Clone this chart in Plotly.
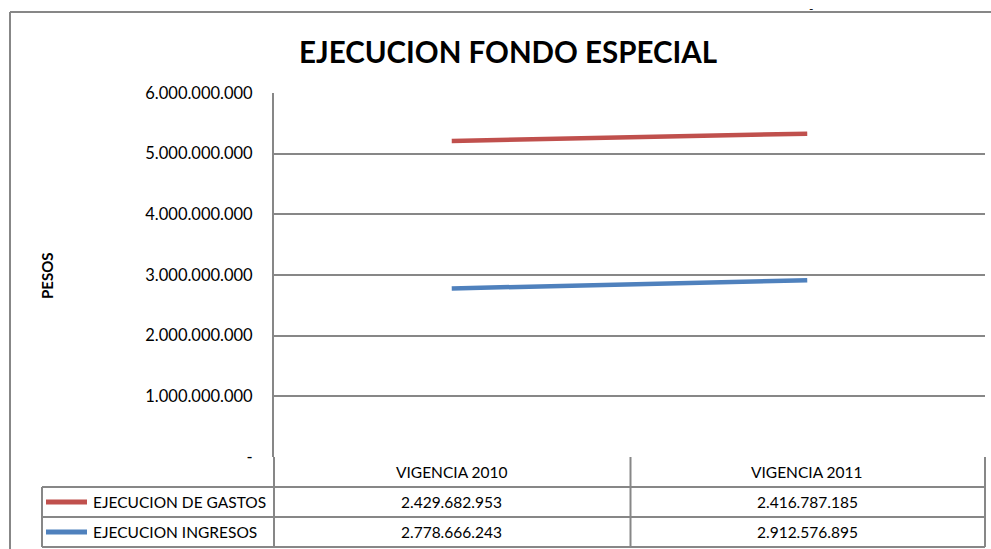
import plotly.graph_objects as go

# ---- data ----
categories = ["VIGENCIA 2010", "VIGENCIA 2011"]
gastos = [2429682953, 2416787185]
ingresos = [2778666243, 2912576895]
series_names = ["EJECUCION DE GASTOS", "EJECUCION INGRESOS"]
y_tickvals = [0, 1e9, 2e9, 3e9, 4e9, 5e9, 6e9]
y_ticktext = ["-", "1.000.000.000", "2.000.000.000", "3.000.000.000",
              "4.000.000.000", "5.000.000.000", "6.000.000.000"]

# ---- layout constants (pixels) ----
FW, FH = 991, 549
L, R, T, B = 274, 985, 93, 457
PW, PH = R - L, B - T
RED = "#C0504D"
BLUE = "#4F81BD"
GRID = "#878787"
FONT = "Lato"


def xp(px):
    return (px - L) / PW


def yp(py):
    return (B - py) / PH


def fmt(v):
    return f"{v:,}".replace(",", ".")


fig = go.Figure()
# stacked lines (Excel stacked line chart): ingresos at bottom, gastos on top
fig.add_trace(go.Scatter(x=categories, y=ingresos, name=series_names[1], mode="lines",
                         stackgroup="one", fill="none",
                         line=dict(color=BLUE, width=4.5)))
fig.add_trace(go.Scatter(x=categories, y=gastos, name=series_names[0], mode="lines",
                         stackgroup="one", fill="none",
                         line=dict(color=RED, width=4.5)))

shapes = []
annotations = []


def hline(py, x0, x1, w=2):
    shapes.append(dict(type="line", xref="paper", yref="paper",
                       x0=xp(x0), x1=xp(x1), y0=yp(py), y1=yp(py),
                       line=dict(color=GRID, width=w), layer="above"))


def vline(px, y0, y1, w=2):
    shapes.append(dict(type="line", xref="paper", yref="paper",
                       x0=xp(px), x1=xp(px), y0=yp(y0), y1=yp(y1),
                       line=dict(color=GRID, width=w), layer="above"))


# outer chart border (left and top)
vline(10, 12, FH + 5)
hline(12, 10, FW + 5)

# data table grid
ROW_TOP, ROW1, ROW2, ROW3 = 457, 487, 517, 547
LEG_L = 42
MID = 630.5
vline(L, ROW_TOP, ROW3)
vline(MID, ROW_TOP, ROW3)
vline(R, ROW_TOP, ROW3)
vline(LEG_L, ROW1, ROW3)
hline(ROW1, LEG_L, R)
hline(ROW2, LEG_L, R)
hline(ROW3, LEG_L, R)

TFONT = dict(family=FONT, size=15.5, color="#000000")

# header row
for c in categories:
    annotations.append(dict(x=c, xref="x", y=yp((ROW_TOP + ROW1) / 2), yref="paper",
                            text=c, showarrow=False, font=TFONT,
                            xanchor="center", yanchor="middle"))

rows = [(series_names[0], gastos, RED, (ROW1 + ROW2) / 2),
        (series_names[1], ingresos, BLUE, (ROW2 + ROW3) / 2)]
for name, vals, col, cy in rows:
    shapes.append(dict(type="line", xref="paper", yref="paper",
                       x0=xp(46), x1=xp(87), y0=yp(cy), y1=yp(cy),
                       line=dict(color=col, width=5), layer="above"))
    annotations.append(dict(x=xp(91), xref="paper", y=yp(cy), yref="paper",
                            text=name, showarrow=False, font=TFONT,
                            xanchor="left", yanchor="middle"))
    for c, v in zip(categories, vals):
        annotations.append(dict(x=c, xref="x", y=yp(cy), yref="paper",
                                text=fmt(v), showarrow=False, font=TFONT,
                                xanchor="center", yanchor="middle"))

# title
annotations.append(dict(x=xp(508), xref="paper", y=yp(52), yref="paper",
                        text="<b>EJECUCION FONDO ESPECIAL</b>", showarrow=False,
                        font=dict(family=FONT, size=29.5, color="#000000"),
                        xanchor="center", yanchor="middle"))
# axis title
annotations.append(dict(x=xp(47), xref="paper", y=yp(275), yref="paper",
                        text="<b>PESOS</b>", showarrow=False, textangle=-90,
                        font=dict(family=FONT, size=15, color="#000000"),
                        xanchor="center", yanchor="middle"))
# stray dash above the chart
annotations.append(dict(x=xp(811), xref="paper", y=yp(9), yref="paper",
                        text="-", showarrow=False,
                        font=dict(family=FONT, size=12, color="#000000"),
                        xanchor="center", yanchor="middle"))

fig.update_layout(
    width=FW, height=FH,
    margin=dict(l=L, r=FW - R, t=T, b=FH - B, pad=0),
    paper_bgcolor="white", plot_bgcolor="white",
    showlegend=False,
    shapes=shapes, annotations=annotations,
    font=dict(family=FONT, color="#000000"),
)
fig.update_xaxes(type="category", range=[-0.5, 1.5], showticklabels=False,
                 showgrid=False, zeroline=False, showline=False, ticks="")
fig.update_yaxes(range=[0, 6e9], tickvals=y_tickvals, ticktext=y_ticktext,
                 showgrid=True, gridcolor=GRID, gridwidth=2, zeroline=False,
                 showline=True, linecolor=GRID, linewidth=2, ticks="",
                 ticklabelstandoff=16,
                 tickfont=dict(family=FONT, size=16.5, color="#000000"))

fig.write_html("out.html", config={"displayModeBar": False},
               post_script="document.body.style.margin='0';document.body.style.overflow='hidden';")
